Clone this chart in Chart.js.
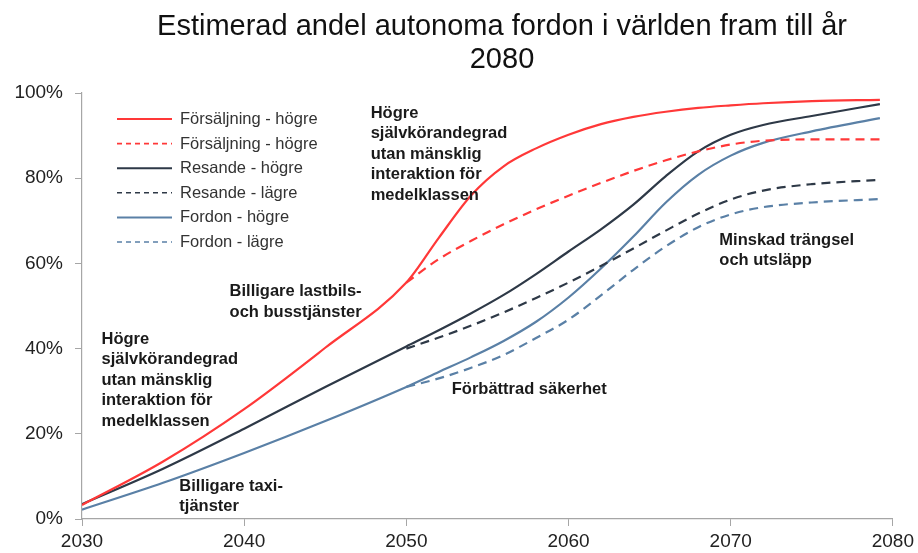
<!DOCTYPE html>
<html><head><meta charset="utf-8">
<script src="https://cdn.jsdelivr.net/npm/chart.js@4/dist/chart.umd.min.js"></script>
<style>html,body{margin:0;padding:0;background:#fff}#wrap{width:918px;height:553px;position:relative}</style>
</head><body><div id="wrap"><canvas id="c" width="918" height="553"></canvas></div>
<script>
const titleLines = ['Estimerad andel autonoma fordon i världen fram till år', '2080'];
const yearsFull = [2030, 2035, 2040, 2045, 2050, 2052, 2054, 2056, 2058, 2060, 2062, 2064, 2066, 2068, 2070, 2072, 2075, 2079.2];
const yearsLow  = [2050, 2052, 2054, 2056, 2058, 2060, 2062, 2064, 2066, 2068, 2070, 2072, 2075, 2079.2];
const salesHigh = [3.3, 13.5, 25.8, 40.2, 55.5, 66, 76, 82.8, 87, 90.2, 92.7, 94.4, 95.6, 96.5, 97.1, 97.6, 98.1, 98.4];
const salesLow  = [55.5, 61, 65.3, 69.2, 72.7, 75.9, 78.9, 81.7, 84.2, 86.3, 87.9, 88.8, 89.1, 89.1];
const travHigh  = [3.5, 11.8, 21.2, 31, 40.5, 44.3, 48.3, 52.6, 57.5, 62.8, 68, 73.8, 80.5, 86.3, 90.2, 92.5, 94.6, 97.4];
const travLow   = [40, 42.6, 45.4, 48.5, 51.9, 55.5, 59.4, 63.5, 67.7, 71.7, 75, 77.1, 78.6, 79.6];
const vehHigh   = [2.2, 8.5, 15.5, 23, 31, 34.5, 38, 41.8, 46.3, 52, 58.8, 66.3, 74.3, 80.8, 85.3, 88.3, 91, 94.1];
const vehLow    = [31, 33, 35.5, 38.5, 42.5, 46.8, 52.5, 58.5, 64, 68.5, 71.5, 73.2, 74.3, 75.1];
const seriesLabels = ['Försäljning - högre', 'Försäljning - högre', 'Resande - högre', 'Resande - lägre', 'Fordon - högre', 'Fordon - lägre'];
const yTicks = [0, 20, 40, 60, 80, 100];
const xTicks = [2030, 2040, 2050, 2060, 2070, 2080];
const annotations = [
  {x: 2031.2, y: 42.2, lines: ['Högre', 'självkörandegrad', 'utan mänsklig', 'interaktion för', 'medelklassen']},
  {x: 2036.0, y: 7.7, lines: ['Billigare taxi-', 'tjänster']},
  {x: 2039.1, y: 53.4, lines: ['Billigare lastbils-', 'och busstjänster']},
  {x: 2047.8, y: 95.3, lines: ['Högre', 'självkörandegrad', 'utan mänsklig', 'interaktion för', 'medelklassen']},
  {x: 2052.8, y: 30.3, lines: ['Förbättrad säkerhet']},
  {x: 2069.3, y: 65.5, lines: ['Minskad trängsel', 'och utsläpp']}
];

const RED = '#ff3838', DARK = '#2e3947', BLUE = '#5a80a6';
function pts(xs, ys){ return xs.map((x,i)=>({x:x, y:ys[i]})); }
const dash = [9, 6];
const datasets = [
  {label: seriesLabels[0], data: pts(yearsFull, salesHigh), borderColor: RED},
  {label: seriesLabels[1], data: pts(yearsLow, salesLow), borderColor: RED, borderDash: dash},
  {label: seriesLabels[2], data: pts(yearsFull, travHigh), borderColor: DARK},
  {label: seriesLabels[3], data: pts(yearsLow, travLow), borderColor: DARK, borderDash: dash},
  {label: seriesLabels[4], data: pts(yearsFull, vehHigh), borderColor: BLUE},
  {label: seriesLabels[5], data: pts(yearsLow, vehLow), borderColor: BLUE, borderDash: dash}
].map(d => Object.assign({borderWidth: 2.2, pointRadius: 0, fill: false, cubicInterpolationMode: 'monotone'}, d));

const FONT = '"Liberation Sans", Arial, sans-serif';

const decor = {
  id: 'decor',
  afterDraw(chart){
    const ctx = chart.ctx, xs = chart.scales.x, ys = chart.scales.y;
    ctx.save();
    // title
    ctx.fillStyle = '#111';
    ctx.font = '29px ' + FONT;
    ctx.textAlign = 'center'; ctx.textBaseline = 'alphabetic';
    ctx.fillText(titleLines[0], 502, 35);
    ctx.fillText(titleLines[1], 502, 68);
    // legend
    ctx.font = '16.5px ' + FONT;
    ctx.textAlign = 'left'; ctx.textBaseline = 'middle';
    chart.data.datasets.forEach((d, i) => {
      const y = 119 + i * 24.6;
      ctx.strokeStyle = d.borderColor;
      ctx.lineWidth = d.borderDash ? 1.6 : 2;
      ctx.setLineDash(d.borderDash ? [5, 4] : []);
      ctx.beginPath(); ctx.moveTo(117, y); ctx.lineTo(172, y); ctx.stroke();
      ctx.setLineDash([]);
      ctx.fillStyle = '#333';
      ctx.fillText(d.label, 180, y + 0.5);
    });
    // annotations
    ctx.font = 'bold 16.5px ' + FONT;
    ctx.fillStyle = '#1a1a1a';
    annotations.forEach(a => {
      const px = xs.getPixelForValue(a.x), py = ys.getPixelForValue(a.y);
      a.lines.forEach((t, k) => ctx.fillText(t, px, py + k * 20.5));
    });
    ctx.restore();
  }
};

new Chart(document.getElementById('c'), {
  type: 'line',
  data: {datasets},
  options: {
    responsive: false, animation: false,
    layout: {padding: {top: 93, right: 22, left: 0, bottom: 0}},
    plugins: {legend: {display: false}, title: {display: false}, tooltip: {enabled: false}},
    scales: {
      x: {
        type: 'linear', min: 2030, max: 2080,
        afterBuildTicks: s => { s.ticks = xTicks.map(v => ({value: v})); },
        afterFit: s => { s.height = 34; },
        grid: {display: true, drawOnChartArea: false, drawTicks: true, tickLength: 7, color: '#a6a6a6'},
        border: {display: true, color: '#a6a6a6', width: 1.2},
        ticks: {color: '#222', font: {size: 19, family: FONT}, padding: 4, maxRotation: 0, callback: v => String(v)}
      },
      y: {
        min: 0, max: 100,
        afterBuildTicks: s => { s.ticks = yTicks.map(v => ({value: v})); },
        afterFit: s => { s.width = 82; },
        grid: {display: true, drawOnChartArea: false, drawTicks: true, tickLength: 7, color: '#a6a6a6'},
        border: {display: true, color: '#a6a6a6', width: 1.2},
        ticks: {color: '#222', font: {size: 19, family: FONT}, padding: 12, callback: v => v + '%'}
      }
    }
  },
  plugins: [decor]
});
</script></body></html>
